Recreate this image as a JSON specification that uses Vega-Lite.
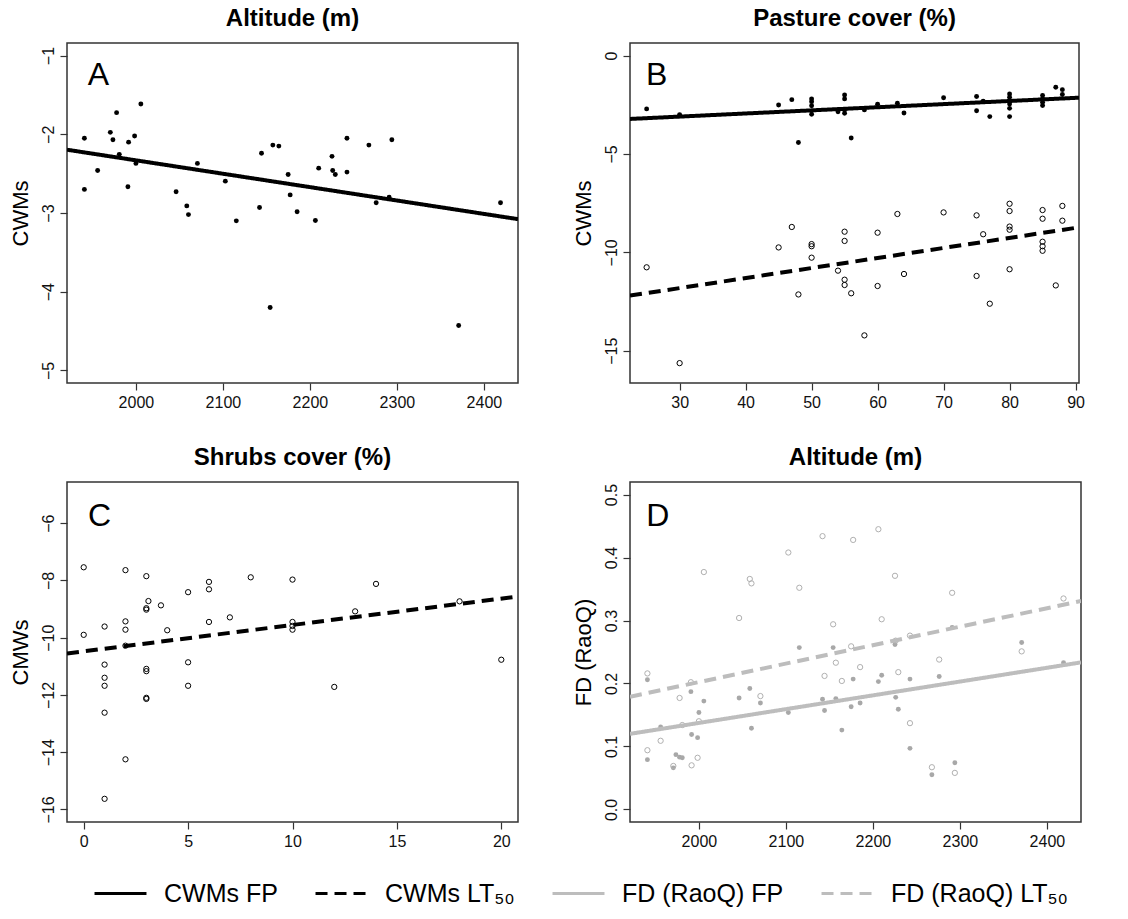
{
  "$schema": "https://vega.github.io/schema/vega-lite/v6.json",
  "background": "white",
  "padding": {"left": 8, "top": 6, "right": 5, "bottom": 5},
  "datasets": {
    "pts": [
      {"panel":"A","kind":"f","x":1940.8,"y":-2.05},{"panel":"A","kind":"f","x":1940.8,"y":-2.70},{"panel":"A","kind":"f","x":1956,"y":-2.46},{"panel":"A","kind":"f","x":1970.6,"y":-1.975},{"panel":"A","kind":"f","x":1973.6,"y":-2.07},{"panel":"A","kind":"f","x":1977.8,"y":-1.725},{"panel":"A","kind":"f","x":1980.9,"y":-2.255},{"panel":"A","kind":"f","x":1991.6,"y":-2.10},{"panel":"A","kind":"f","x":1990.8,"y":-2.667},{"panel":"A","kind":"f","x":1998.5,"y":-2.022},{"panel":"A","kind":"f","x":2000,"y":-2.37},{"panel":"A","kind":"f","x":2005.7,"y":-1.615},{"panel":"A","kind":"f","x":2046.2,"y":-2.73},{"panel":"A","kind":"f","x":2058.5,"y":-2.91},{"panel":"A","kind":"f","x":2060.4,"y":-3.02},{"panel":"A","kind":"f","x":2070.7,"y":-2.37},{"panel":"A","kind":"f","x":2102.8,"y":-2.595},{"panel":"A","kind":"f","x":2115.4,"y":-3.10},{"panel":"A","kind":"f","x":2142.1,"y":-2.93},{"panel":"A","kind":"f","x":2144.4,"y":-2.24},{"panel":"A","kind":"f","x":2157.4,"y":-2.137},{"panel":"A","kind":"f","x":2154.3,"y":-4.20},{"panel":"A","kind":"f","x":2164.3,"y":-2.15},{"panel":"A","kind":"f","x":2175,"y":-2.51},{"panel":"A","kind":"f","x":2177.3,"y":-2.77},{"panel":"A","kind":"f","x":2185.3,"y":-2.985},{"panel":"A","kind":"f","x":2206.3,"y":-3.095},{"panel":"A","kind":"f","x":2210.1,"y":-2.43},{"panel":"A","kind":"f","x":2225.4,"y":-2.28},{"panel":"A","kind":"f","x":2226.2,"y":-2.46},{"panel":"A","kind":"f","x":2229.2,"y":-2.51},{"panel":"A","kind":"f","x":2242.6,"y":-2.05},{"panel":"A","kind":"f","x":2242.6,"y":-2.48},{"panel":"A","kind":"f","x":2267.8,"y":-2.137},{"panel":"A","kind":"f","x":2276.2,"y":-2.87},{"panel":"A","kind":"f","x":2291.1,"y":-2.80},{"panel":"A","kind":"f","x":2294.2,"y":-2.07},{"panel":"A","kind":"f","x":2371,"y":-4.43},{"panel":"A","kind":"f","x":2419.1,"y":-2.87},

      {"panel":"B","kind":"f","x":25,"y":-2.71},{"panel":"B","kind":"f","x":30,"y":-3.0},{"panel":"B","kind":"f","x":45,"y":-2.51},{"panel":"B","kind":"f","x":47,"y":-2.24},{"panel":"B","kind":"f","x":48,"y":-4.42},{"panel":"B","kind":"f","x":50,"y":-2.2},{"panel":"B","kind":"f","x":50,"y":-2.34},{"panel":"B","kind":"f","x":50,"y":-2.55},{"panel":"B","kind":"f","x":50,"y":-2.98},{"panel":"B","kind":"f","x":54,"y":-2.86},{"panel":"B","kind":"f","x":55,"y":-2.0},{"panel":"B","kind":"f","x":55,"y":-2.2},{"panel":"B","kind":"f","x":55,"y":-2.75},{"panel":"B","kind":"f","x":55,"y":-2.93},{"panel":"B","kind":"f","x":56,"y":-4.19},{"panel":"B","kind":"f","x":58,"y":-2.76},{"panel":"B","kind":"f","x":60,"y":-2.47},{"panel":"B","kind":"f","x":63,"y":-2.42},{"panel":"B","kind":"f","x":64,"y":-2.92},{"panel":"B","kind":"f","x":70,"y":-2.14},{"panel":"B","kind":"f","x":75,"y":-2.08},{"panel":"B","kind":"f","x":75,"y":-2.8},{"panel":"B","kind":"f","x":76,"y":-2.32},{"panel":"B","kind":"f","x":77,"y":-3.1},{"panel":"B","kind":"f","x":80,"y":-1.95},{"panel":"B","kind":"f","x":80,"y":-2.12},{"panel":"B","kind":"f","x":80,"y":-2.29},{"panel":"B","kind":"f","x":80,"y":-2.46},{"panel":"B","kind":"f","x":80,"y":-2.68},{"panel":"B","kind":"f","x":80,"y":-3.1},{"panel":"B","kind":"f","x":85,"y":-2.03},{"panel":"B","kind":"f","x":85,"y":-2.2},{"panel":"B","kind":"f","x":85,"y":-2.37},{"panel":"B","kind":"f","x":85,"y":-2.54},{"panel":"B","kind":"f","x":87,"y":-1.61},{"panel":"B","kind":"f","x":88,"y":-1.73},{"panel":"B","kind":"f","x":88,"y":-1.98},

      {"panel":"B","kind":"o","x":25,"y":-10.76},{"panel":"B","kind":"o","x":30,"y":-15.63},{"panel":"B","kind":"o","x":45,"y":-9.75},{"panel":"B","kind":"o","x":47,"y":-8.71},{"panel":"B","kind":"o","x":48,"y":-12.14},{"panel":"B","kind":"o","x":50,"y":-9.58},{"panel":"B","kind":"o","x":50,"y":-9.69},{"panel":"B","kind":"o","x":50,"y":-10.27},{"panel":"B","kind":"o","x":54,"y":-10.93},{"panel":"B","kind":"o","x":55,"y":-8.95},{"panel":"B","kind":"o","x":55,"y":-9.42},{"panel":"B","kind":"o","x":55,"y":-11.39},{"panel":"B","kind":"o","x":55,"y":-11.66},{"panel":"B","kind":"o","x":56,"y":-12.08},{"panel":"B","kind":"o","x":58,"y":-14.22},{"panel":"B","kind":"o","x":60,"y":-9.0},{"panel":"B","kind":"o","x":60,"y":-11.71},{"panel":"B","kind":"o","x":63,"y":-8.05},{"panel":"B","kind":"o","x":64,"y":-11.1},{"panel":"B","kind":"o","x":70,"y":-7.97},{"panel":"B","kind":"o","x":75,"y":-8.12},{"panel":"B","kind":"o","x":75,"y":-11.2},{"panel":"B","kind":"o","x":76,"y":-9.08},{"panel":"B","kind":"o","x":77,"y":-12.61},{"panel":"B","kind":"o","x":80,"y":-7.53},{"panel":"B","kind":"o","x":80,"y":-7.9},{"panel":"B","kind":"o","x":80,"y":-8.69},{"panel":"B","kind":"o","x":80,"y":-8.85},{"panel":"B","kind":"o","x":80,"y":-10.86},{"panel":"B","kind":"o","x":85,"y":-7.85},{"panel":"B","kind":"o","x":85,"y":-8.29},{"panel":"B","kind":"o","x":85,"y":-9.46},{"panel":"B","kind":"o","x":85,"y":-9.69},{"panel":"B","kind":"o","x":85,"y":-9.92},{"panel":"B","kind":"o","x":87,"y":-11.68},{"panel":"B","kind":"o","x":88,"y":-7.64},{"panel":"B","kind":"o","x":88,"y":-8.39},

      {"panel":"C","kind":"o","x":0,"y":-7.54},{"panel":"C","kind":"o","x":0,"y":-9.9},{"panel":"C","kind":"o","x":1,"y":-9.61},{"panel":"C","kind":"o","x":1,"y":-10.94},{"panel":"C","kind":"o","x":1,"y":-11.4},{"panel":"C","kind":"o","x":1,"y":-11.68},{"panel":"C","kind":"o","x":1,"y":-12.62},{"panel":"C","kind":"o","x":1,"y":-15.63},{"panel":"C","kind":"o","x":2,"y":-7.64},{"panel":"C","kind":"o","x":2,"y":-9.43},{"panel":"C","kind":"o","x":2,"y":-9.72},{"panel":"C","kind":"o","x":2,"y":-10.28},{"panel":"C","kind":"o","x":2,"y":-14.25},{"panel":"C","kind":"o","x":3,"y":-7.85},{"panel":"C","kind":"o","x":3.1,"y":-8.72},{"panel":"C","kind":"o","x":3,"y":-8.97},{"panel":"C","kind":"o","x":3,"y":-9.02},{"panel":"C","kind":"o","x":3,"y":-11.09},{"panel":"C","kind":"o","x":3,"y":-11.17},{"panel":"C","kind":"o","x":3,"y":-12.1},{"panel":"C","kind":"o","x":3,"y":-12.14},{"panel":"C","kind":"o","x":3.7,"y":-8.87},{"panel":"C","kind":"o","x":4,"y":-9.74},{"panel":"C","kind":"o","x":5,"y":-8.41},{"panel":"C","kind":"o","x":5,"y":-10.86},{"panel":"C","kind":"o","x":5,"y":-11.68},{"panel":"C","kind":"o","x":6,"y":-8.05},{"panel":"C","kind":"o","x":6,"y":-8.31},{"panel":"C","kind":"o","x":6,"y":-9.45},{"panel":"C","kind":"o","x":7,"y":-9.29},{"panel":"C","kind":"o","x":8,"y":-7.89},{"panel":"C","kind":"o","x":10,"y":-7.97},{"panel":"C","kind":"o","x":10,"y":-9.45},{"panel":"C","kind":"o","x":10,"y":-9.59},{"panel":"C","kind":"o","x":10,"y":-9.72},{"panel":"C","kind":"o","x":12,"y":-11.72},{"panel":"C","kind":"o","x":13,"y":-9.08},{"panel":"C","kind":"o","x":14,"y":-8.12},{"panel":"C","kind":"o","x":18,"y":-8.73},{"panel":"C","kind":"o","x":20,"y":-10.77},

      {"panel":"D","kind":"f","x":1940.8,"y":0.206},{"panel":"D","kind":"f","x":1940.8,"y":0.079},{"panel":"D","kind":"f","x":1956,"y":0.131},{"panel":"D","kind":"f","x":1970.6,"y":0.066},{"panel":"D","kind":"f","x":1973.6,"y":0.087},{"panel":"D","kind":"f","x":1977.8,"y":0.083},{"panel":"D","kind":"f","x":1980.9,"y":0.082},{"panel":"D","kind":"f","x":1990.8,"y":0.187},{"panel":"D","kind":"f","x":1991.6,"y":0.119},{"panel":"D","kind":"f","x":1998.5,"y":0.114},{"panel":"D","kind":"f","x":2000,"y":0.154},{"panel":"D","kind":"f","x":2005.7,"y":0.172},{"panel":"D","kind":"f","x":2046.2,"y":0.177},{"panel":"D","kind":"f","x":2058.5,"y":0.192},{"panel":"D","kind":"f","x":2060.4,"y":0.129},{"panel":"D","kind":"f","x":2070.7,"y":0.169},{"panel":"D","kind":"f","x":2102.8,"y":0.154},{"panel":"D","kind":"f","x":2115.4,"y":0.257},{"panel":"D","kind":"f","x":2142.1,"y":0.175},{"panel":"D","kind":"f","x":2144.4,"y":0.157},{"panel":"D","kind":"f","x":2154.3,"y":0.257},{"panel":"D","kind":"f","x":2157.4,"y":0.176},{"panel":"D","kind":"f","x":2164.3,"y":0.126},{"panel":"D","kind":"f","x":2175,"y":0.163},{"panel":"D","kind":"f","x":2177.3,"y":0.207},{"panel":"D","kind":"f","x":2185.3,"y":0.169},{"panel":"D","kind":"f","x":2206.3,"y":0.203},{"panel":"D","kind":"f","x":2210.1,"y":0.213},{"panel":"D","kind":"f","x":2225.4,"y":0.262},{"panel":"D","kind":"f","x":2226.2,"y":0.178},{"panel":"D","kind":"f","x":2229.2,"y":0.159},{"panel":"D","kind":"f","x":2242.6,"y":0.207},{"panel":"D","kind":"f","x":2242.6,"y":0.097},{"panel":"D","kind":"f","x":2267.8,"y":0.055},{"panel":"D","kind":"f","x":2276.2,"y":0.211},{"panel":"D","kind":"f","x":2291.1,"y":0.289},{"panel":"D","kind":"f","x":2294.2,"y":0.074},{"panel":"D","kind":"f","x":2371,"y":0.265},{"panel":"D","kind":"f","x":2419.1,"y":0.233},

      {"panel":"D","kind":"o","x":1940.8,"y":0.216},{"panel":"D","kind":"o","x":1940.8,"y":0.094},{"panel":"D","kind":"o","x":1956,"y":0.109},{"panel":"D","kind":"o","x":1970.6,"y":0.069},{"panel":"D","kind":"o","x":1977.8,"y":0.177},{"panel":"D","kind":"o","x":1980.9,"y":0.134},{"panel":"D","kind":"o","x":1990.8,"y":0.202},{"panel":"D","kind":"o","x":1991.6,"y":0.070},{"panel":"D","kind":"o","x":1998.5,"y":0.082},{"panel":"D","kind":"o","x":2000,"y":0.14},{"panel":"D","kind":"o","x":2005.7,"y":0.377},{"panel":"D","kind":"o","x":2046.2,"y":0.304},{"panel":"D","kind":"o","x":2058.5,"y":0.366},{"panel":"D","kind":"o","x":2060.4,"y":0.359},{"panel":"D","kind":"o","x":2070.7,"y":0.18},{"panel":"D","kind":"o","x":2102.8,"y":0.408},{"panel":"D","kind":"o","x":2115.4,"y":0.352},{"panel":"D","kind":"o","x":2142.1,"y":0.434},{"panel":"D","kind":"o","x":2144.4,"y":0.212},{"panel":"D","kind":"o","x":2154.3,"y":0.294},{"panel":"D","kind":"o","x":2157.4,"y":0.233},{"panel":"D","kind":"o","x":2164.3,"y":0.204},{"panel":"D","kind":"o","x":2175,"y":0.259},{"panel":"D","kind":"o","x":2177.3,"y":0.428},{"panel":"D","kind":"o","x":2185.3,"y":0.226},{"panel":"D","kind":"o","x":2206.3,"y":0.445},{"panel":"D","kind":"o","x":2210.1,"y":0.302},{"panel":"D","kind":"o","x":2225.4,"y":0.371},{"panel":"D","kind":"o","x":2226.2,"y":0.268},{"panel":"D","kind":"o","x":2229.2,"y":0.218},{"panel":"D","kind":"o","x":2242.6,"y":0.276},{"panel":"D","kind":"o","x":2242.6,"y":0.137},{"panel":"D","kind":"o","x":2267.8,"y":0.067},{"panel":"D","kind":"o","x":2276.2,"y":0.238},{"panel":"D","kind":"o","x":2291.1,"y":0.344},{"panel":"D","kind":"o","x":2294.2,"y":0.058},{"panel":"D","kind":"o","x":2371,"y":0.251},{"panel":"D","kind":"o","x":2419.1,"y":0.335}
    ],
    "fits": [
      {"panel":"A","series":"CWMs FP","x":1920.8,"y":-2.196},{"panel":"A","series":"CWMs FP","x":2439.2,"y":-3.078},
      {"panel":"B","series":"CWMs FP","x":22.48,"y":-3.22},{"panel":"B","series":"CWMs FP","x":90.52,"y":-2.14},
      {"panel":"B","series":"CWMs LT₅₀","x":22.48,"y":-12.2},{"panel":"B","series":"CWMs LT₅₀","x":90.52,"y":-8.73},
      {"panel":"C","series":"CWMs LT₅₀","x":-0.8,"y":-10.55},{"panel":"C","series":"CWMs LT₅₀","x":20.8,"y":-8.56},
      {"panel":"D","series":"FD (RaoQ) FP","x":1920.8,"y":0.120},{"panel":"D","series":"FD (RaoQ) FP","x":2439.2,"y":0.2335},
      {"panel":"D","series":"FD (RaoQ) LT₅₀","x":1920.8,"y":0.179},{"panel":"D","series":"FD (RaoQ) LT₅₀","x":2439.2,"y":0.331}
    ],
    "letters": [
      {"panel":"A","label":"A","x":1944.6,"y":-1.378},
      {"panel":"B","label":"B","x":24.9,"y":-1.49},
      {"panel":"C","label":"C","x":0.21,"y":-6.08},
      {"panel":"D","label":"D","x":1939.5,"y":0.45}
    ]
  },
  "columns": 2,
  "spacing": {"row": 99, "column": 112},
  "bounds": "flush",
  "concat": [
    {
      "width": 451, "height": 340,
      "title": {"text": "Altitude (m)"},
      "layer": [
        {
          "data": {"name": "pts"},
          "transform": [{"filter": "datum.panel === 'A'"}],
          "mark": {"type": "circle", "size": 24, "color": "black", "opacity": 1},
          "encoding": {
            "x": {"field": "x", "type": "quantitative", "scale": {"domain": [1920.8, 2439.2], "nice": false, "zero": false}, "axis": {"values": [2000, 2100, 2200, 2300, 2400], "format": "d", "title": null}},
            "y": {"field": "y", "type": "quantitative", "scale": {"domain": [-5.16, -0.84], "nice": false, "zero": false}, "axis": {"values": [-5, -4, -3, -2, -1], "format": "d", "title": "CWMs"}}
          }
        },
        {
          "data": {"name": "fits"},
          "transform": [{"filter": "datum.panel === 'A'"}],
          "mark": {"type": "line", "strokeWidth": 4, "clip": true},
          "encoding": {
            "x": {"field": "x", "type": "quantitative", "scale": {"domain": [1920.8, 2439.2], "nice": false, "zero": false}},
            "y": {"field": "y", "type": "quantitative", "scale": {"domain": [-5.16, -0.84], "nice": false, "zero": false}},
            "color": {"field": "series", "type": "nominal", "scale": {"domain": ["CWMs FP", "CWMs LT₅₀", "FD (RaoQ) FP", "FD (RaoQ) LT₅₀"], "range": ["#000000", "#000000", "#bdbdbd", "#bdbdbd"]}, "legend": {"title": null}},
            "strokeDash": {"field": "series", "type": "nominal", "scale": {"domain": ["CWMs FP", "CWMs LT₅₀", "FD (RaoQ) FP", "FD (RaoQ) LT₅₀"], "range": [[1, 0], [12, 7], [1, 0], [12, 7]]}, "legend": {"title": null}}
          }
        },
        {
          "data": {"name": "letters"},
          "transform": [{"filter": "datum.panel === 'A'"}],
          "mark": {"type": "text", "fontSize": 32, "align": "left", "baseline": "alphabetic", "color": "black"},
          "encoding": {
            "x": {"field": "x", "type": "quantitative", "scale": {"domain": [1920.8, 2439.2], "nice": false, "zero": false}},
            "y": {"field": "y", "type": "quantitative", "scale": {"domain": [-5.16, -0.84], "nice": false, "zero": false}},
            "text": {"field": "label"}
          }
        }
      ]
    },
    {
      "width": 449, "height": 340,
      "title": {"text": "Pasture cover (%)"},
      "layer": [
        {
          "data": {"name": "pts"},
          "transform": [{"filter": "datum.panel === 'B' && datum.kind === 'f'"}],
          "mark": {"type": "circle", "size": 24, "color": "black", "opacity": 1},
          "encoding": {
            "x": {"field": "x", "type": "quantitative", "scale": {"domain": [22.48, 90.52], "nice": false, "zero": false}, "axis": {"values": [30, 40, 50, 60, 70, 80, 90], "format": "d", "title": null}},
            "y": {"field": "y", "type": "quantitative", "scale": {"domain": [-16.64, 0.64], "nice": false, "zero": false}, "axis": {"values": [-15, -10, -5, 0], "format": "d", "title": "CWMs"}}
          }
        },
        {
          "data": {"name": "pts"},
          "transform": [{"filter": "datum.panel === 'B' && datum.kind === 'o'"}],
          "mark": {"type": "point", "shape": "circle", "filled": false, "size": 28, "strokeWidth": 1, "color": "black", "opacity": 1},
          "encoding": {
            "x": {"field": "x", "type": "quantitative", "scale": {"domain": [22.48, 90.52], "nice": false, "zero": false}},
            "y": {"field": "y", "type": "quantitative", "scale": {"domain": [-16.64, 0.64], "nice": false, "zero": false}}
          }
        },
        {
          "data": {"name": "fits"},
          "transform": [{"filter": "datum.panel === 'B'"}],
          "mark": {"type": "line", "strokeWidth": 4, "clip": true},
          "encoding": {
            "x": {"field": "x", "type": "quantitative", "scale": {"domain": [22.48, 90.52], "nice": false, "zero": false}},
            "y": {"field": "y", "type": "quantitative", "scale": {"domain": [-16.64, 0.64], "nice": false, "zero": false}},
            "color": {"field": "series", "type": "nominal", "scale": {"domain": ["CWMs FP", "CWMs LT₅₀", "FD (RaoQ) FP", "FD (RaoQ) LT₅₀"], "range": ["#000000", "#000000", "#bdbdbd", "#bdbdbd"]}, "legend": {"title": null}},
            "strokeDash": {"field": "series", "type": "nominal", "scale": {"domain": ["CWMs FP", "CWMs LT₅₀", "FD (RaoQ) FP", "FD (RaoQ) LT₅₀"], "range": [[1, 0], [12, 7], [1, 0], [12, 7]]}, "legend": {"title": null}}
          }
        },
        {
          "data": {"name": "letters"},
          "transform": [{"filter": "datum.panel === 'B'"}],
          "mark": {"type": "text", "fontSize": 32, "align": "left", "baseline": "alphabetic", "color": "black"},
          "encoding": {
            "x": {"field": "x", "type": "quantitative", "scale": {"domain": [22.48, 90.52], "nice": false, "zero": false}},
            "y": {"field": "y", "type": "quantitative", "scale": {"domain": [-16.64, 0.64], "nice": false, "zero": false}},
            "text": {"field": "label"}
          }
        }
      ]
    },
    {
      "width": 451, "height": 340,
      "title": {"text": "Shrubs cover (%)"},
      "layer": [
        {
          "data": {"name": "pts"},
          "transform": [{"filter": "datum.panel === 'C'"}],
          "mark": {"type": "point", "shape": "circle", "filled": false, "size": 28, "strokeWidth": 1, "color": "black", "opacity": 1},
          "encoding": {
            "x": {"field": "x", "type": "quantitative", "scale": {"domain": [-0.8, 20.8], "nice": false, "zero": false}, "axis": {"values": [0, 5, 10, 15, 20], "format": "d", "title": null}},
            "y": {"field": "y", "type": "quantitative", "scale": {"domain": [-16.44, -4.56], "nice": false, "zero": false}, "axis": {"values": [-16, -14, -12, -10, -8, -6], "format": "d", "title": "CMWs"}}
          }
        },
        {
          "data": {"name": "fits"},
          "transform": [{"filter": "datum.panel === 'C'"}],
          "mark": {"type": "line", "strokeWidth": 4, "clip": true},
          "encoding": {
            "x": {"field": "x", "type": "quantitative", "scale": {"domain": [-0.8, 20.8], "nice": false, "zero": false}},
            "y": {"field": "y", "type": "quantitative", "scale": {"domain": [-16.44, -4.56], "nice": false, "zero": false}},
            "color": {"field": "series", "type": "nominal", "scale": {"domain": ["CWMs FP", "CWMs LT₅₀", "FD (RaoQ) FP", "FD (RaoQ) LT₅₀"], "range": ["#000000", "#000000", "#bdbdbd", "#bdbdbd"]}, "legend": {"title": null}},
            "strokeDash": {"field": "series", "type": "nominal", "scale": {"domain": ["CWMs FP", "CWMs LT₅₀", "FD (RaoQ) FP", "FD (RaoQ) LT₅₀"], "range": [[1, 0], [12, 7], [1, 0], [12, 7]]}, "legend": {"title": null}}
          }
        },
        {
          "data": {"name": "letters"},
          "transform": [{"filter": "datum.panel === 'C'"}],
          "mark": {"type": "text", "fontSize": 32, "align": "left", "baseline": "alphabetic", "color": "black"},
          "encoding": {
            "x": {"field": "x", "type": "quantitative", "scale": {"domain": [-0.8, 20.8], "nice": false, "zero": false}},
            "y": {"field": "y", "type": "quantitative", "scale": {"domain": [-16.44, -4.56], "nice": false, "zero": false}},
            "text": {"field": "label"}
          }
        }
      ]
    },
    {
      "width": 451, "height": 340,
      "title": {"text": "Altitude (m)"},
      "layer": [
        {
          "data": {"name": "pts"},
          "transform": [{"filter": "datum.panel === 'D' && datum.kind === 'f'"}],
          "mark": {"type": "circle", "size": 24, "color": "#a8a8a8", "opacity": 1},
          "encoding": {
            "x": {"field": "x", "type": "quantitative", "scale": {"domain": [1920.8, 2439.2], "nice": false, "zero": false}, "axis": {"values": [2000, 2100, 2200, 2300, 2400], "format": "d", "title": null}},
            "y": {"field": "y", "type": "quantitative", "scale": {"domain": [-0.02, 0.52], "nice": false, "zero": false}, "axis": {"values": [0, 0.1, 0.2, 0.3, 0.4, 0.5], "format": ".1f", "title": "FD (RaoQ)"}}
          }
        },
        {
          "data": {"name": "pts"},
          "transform": [{"filter": "datum.panel === 'D' && datum.kind === 'o'"}],
          "mark": {"type": "point", "shape": "circle", "filled": false, "size": 28, "strokeWidth": 1, "color": "#b0b0b0", "opacity": 1},
          "encoding": {
            "x": {"field": "x", "type": "quantitative", "scale": {"domain": [1920.8, 2439.2], "nice": false, "zero": false}},
            "y": {"field": "y", "type": "quantitative", "scale": {"domain": [-0.02, 0.52], "nice": false, "zero": false}}
          }
        },
        {
          "data": {"name": "fits"},
          "transform": [{"filter": "datum.panel === 'D'"}],
          "mark": {"type": "line", "strokeWidth": 4, "clip": true},
          "encoding": {
            "x": {"field": "x", "type": "quantitative", "scale": {"domain": [1920.8, 2439.2], "nice": false, "zero": false}},
            "y": {"field": "y", "type": "quantitative", "scale": {"domain": [-0.02, 0.52], "nice": false, "zero": false}},
            "color": {"field": "series", "type": "nominal", "scale": {"domain": ["CWMs FP", "CWMs LT₅₀", "FD (RaoQ) FP", "FD (RaoQ) LT₅₀"], "range": ["#000000", "#000000", "#bdbdbd", "#bdbdbd"]}, "legend": {"title": null}},
            "strokeDash": {"field": "series", "type": "nominal", "scale": {"domain": ["CWMs FP", "CWMs LT₅₀", "FD (RaoQ) FP", "FD (RaoQ) LT₅₀"], "range": [[1, 0], [12, 7], [1, 0], [12, 7]]}, "legend": {"title": null}}
          }
        },
        {
          "data": {"name": "letters"},
          "transform": [{"filter": "datum.panel === 'D'"}],
          "mark": {"type": "text", "fontSize": 32, "align": "left", "baseline": "alphabetic", "color": "black"},
          "encoding": {
            "x": {"field": "x", "type": "quantitative", "scale": {"domain": [1920.8, 2439.2], "nice": false, "zero": false}},
            "y": {"field": "y", "type": "quantitative", "scale": {"domain": [-0.02, 0.52], "nice": false, "zero": false}},
            "text": {"field": "label"}
          }
        }
      ]
    }
  ],
  "resolve": {
    "scale": {"color": "shared", "strokeDash": "shared"},
    "legend": {"color": "shared", "strokeDash": "shared"}
  },
  "config": {
    "font": "Liberation Sans",
    "view": {"stroke": "#333333", "strokeWidth": 1.5},
    "title": {"fontSize": 24, "fontWeight": "bold", "color": "#000000", "offset": 12, "anchor": "middle"},
    "axis": {
      "grid": false,
      "domain": false,
      "ticks": true,
      "tickSize": 7,
      "tickColor": "#333333",
      "tickWidth": 1.2,
      "labelFontSize": 16,
      "labelColor": "#111111",
      "labelPadding": 4,
      "titleFontSize": 22,
      "titleFontWeight": "normal",
      "titleColor": "#000000"
    },
    "axisLeft": {"labelAngle": 270, "labelAlign": "center", "labelBaseline": "bottom", "titlePadding": 8},
    "legend": {
      "orient": "none",
      "legendX": 26,
      "legendY": 823,
      "direction": "horizontal",
      "symbolType": "stroke",
      "symbolSize": 2700,
      "symbolStrokeWidth": 3,
      "labelFontSize": 25,
      "labelColor": "#000000",
      "labelOffset": 16,
      "columnPadding": 31,
      "gridAlign": "none",
      "labelLimit": 400
    }
  }
}
